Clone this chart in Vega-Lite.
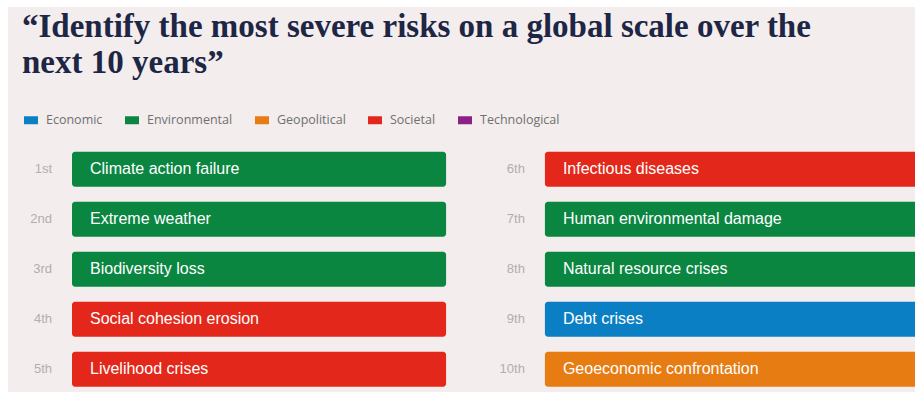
{
  "$schema": "https://vega.github.io/schema/vega-lite/v6.json",
  "width": 907,
  "height": 385,
  "autosize": {"type": "none"},
  "padding": {"left": 8, "top": 7, "right": 0, "bottom": 6},
  "background": "#ffffff",
  "view": {"fill": "#f3eded", "stroke": null},
  "title": {
    "text": ["“Identify the most severe risks on a global scale over the", "next 10 years”"],
    "anchor": "start",
    "frame": "group",
    "font": "Liberation Serif",
    "fontSize": 33,
    "fontWeight": "bold",
    "color": "#1d2645",
    "lineHeight": 36,
    "offset": -73,
    "dx": 14
  },
  "data": {
    "values": [
      {"rank": "1st", "risk": "Climate action failure", "category": "Environmental", "column": 1, "row": 1},
      {"rank": "2nd", "risk": "Extreme weather", "category": "Environmental", "column": 1, "row": 2},
      {"rank": "3rd", "risk": "Biodiversity loss", "category": "Environmental", "column": 1, "row": 3},
      {"rank": "4th", "risk": "Social cohesion erosion", "category": "Societal", "column": 1, "row": 4},
      {"rank": "5th", "risk": "Livelihood crises", "category": "Societal", "column": 1, "row": 5},
      {"rank": "6th", "risk": "Infectious diseases", "category": "Societal", "column": 2, "row": 1},
      {"rank": "7th", "risk": "Human environmental damage", "category": "Environmental", "column": 2, "row": 2},
      {"rank": "8th", "risk": "Natural resource crises", "category": "Environmental", "column": 2, "row": 3},
      {"rank": "9th", "risk": "Debt crises", "category": "Economic", "column": 2, "row": 4},
      {"rank": "10th", "risk": "Geoeconomic confrontation", "category": "Geopolitical", "column": 2, "row": 5}
    ]
  },
  "encoding": {
    "x": {"field": "column", "type": "ordinal", "scale": {"range": [64, 911], "paddingInner": 0.209, "paddingOuter": 0}, "axis": null},
    "y": {"field": "row", "type": "ordinal", "scale": {"range": [144.7, 379.7], "paddingInner": 0.3, "paddingOuter": 0}, "axis": null}
  },
  "layer": [
    {
      "mark": {"type": "rect", "cornerRadius": 3, "opacity": 1},
      "encoding": {
        "color": {
          "field": "category",
          "type": "nominal",
          "scale": {
            "domain": ["Economic", "Environmental", "Geopolitical", "Societal", "Technological"],
            "range": ["#0b7fc4", "#0a8641", "#e77c12", "#e3281b", "#8b2187"]
          },
          "legend": {
            "title": null,
            "orient": "none",
            "legendX": 16,
            "legendY": 106,
            "direction": "horizontal",
            "symbolType": "M-1,-0.57H1V0.57H-1Z",
            "symbolSize": 196,
            "symbolStrokeWidth": 0,
            "symbolOpacity": 1,
            "labelFont": "Open Sans",
            "labelFontSize": 12.5,
            "labelColor": "#707070",
            "labelOffset": 8,
            "columnPadding": 22
          }
        }
      }
    },
    {
      "mark": {"type": "text", "align": "left", "baseline": "middle", "dx": 18, "font": "Liberation Sans", "fontSize": 16, "color": "#ffffff"},
      "encoding": {
        "x": {"field": "column", "type": "ordinal", "bandPosition": 0},
        "text": {"field": "risk"}
      }
    },
    {
      "mark": {"type": "text", "align": "right", "baseline": "middle", "dx": -20, "font": "Liberation Sans", "fontSize": 13, "color": "#b3adad"},
      "encoding": {
        "x": {"field": "column", "type": "ordinal", "bandPosition": 0},
        "text": {"field": "rank"}
      }
    }
  ]
}
